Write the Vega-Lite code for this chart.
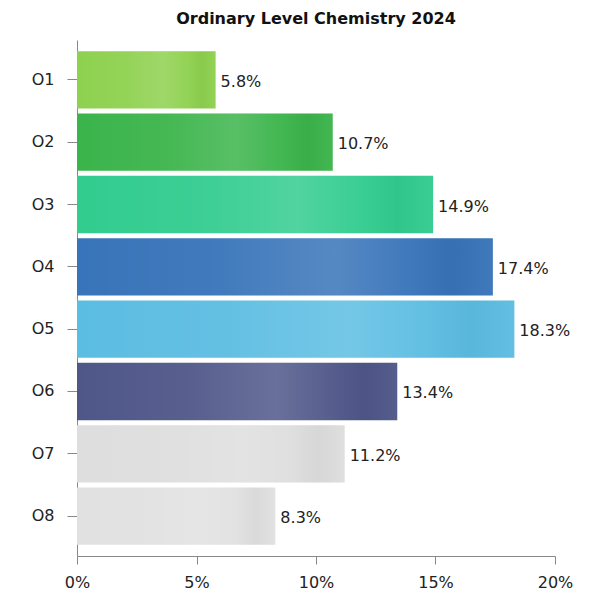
{
  "$schema": "https://vega.github.io/schema/vega-lite/v6.json",
  "autosize": {"type": "none"},
  "padding": {"left": 77, "top": 40, "right": 34, "bottom": 41},
  "width": 478,
  "height": 516,
  "background": "white",
  "title": {
    "text": "Ordinary Level Chemistry 2024",
    "font": "DejaVu Sans",
    "fontSize": 16,
    "fontWeight": "bold",
    "color": "#111111",
    "anchor": "middle",
    "offset": 13
  },
  "config": {
    "view": {"stroke": null},
    "font": "DejaVu Sans"
  },
  "data": {
    "values": [
      {"cat": "O1", "pct": 0.058},
      {"cat": "O2", "pct": 0.107},
      {"cat": "O3", "pct": 0.149},
      {"cat": "O4", "pct": 0.174},
      {"cat": "O5", "pct": 0.183},
      {"cat": "O6", "pct": 0.134},
      {"cat": "O7", "pct": 0.112},
      {"cat": "O8", "pct": 0.083}
    ]
  },
  "encoding": {
    "y": {
      "field": "cat",
      "type": "nominal",
      "sort": null,
      "scale": {"paddingInner": 0.08, "paddingOuter": 0.18},
      "axis": {
        "title": null,
        "labelFont": "DejaVu Sans",
        "labelFontSize": 16,
        "labelColor": "#222222",
        "labelPadding": 13,
        "tickSize": 10,
        "tickColor": "#888888",
        "domainColor": "#888888",
        "grid": false
      }
    },
    "x": {
      "field": "pct",
      "type": "quantitative",
      "scale": {"domain": [0, 0.2], "nice": false},
      "axis": {
        "title": null,
        "format": ".0%",
        "values": [0, 0.05, 0.1, 0.15, 0.2],
        "labelFlush": false,
        "labelFont": "DejaVu Sans",
        "labelFontSize": 16,
        "labelColor": "#222222",
        "labelPadding": 10,
        "tickSize": 8,
        "tickColor": "#888888",
        "domainColor": "#888888",
        "grid": false
      }
    }
  },
  "layer": [
    {
      "mark": {"type": "bar"},
      "encoding": {
        "color": {
          "field": "cat",
          "type": "nominal",
          "legend": null,
          "scale": {
            "domain": ["O1", "O2", "O3", "O4", "O5", "O6", "O7", "O8"],
            "range": ["#8ed14f", "#3bb44b", "#32cc8f", "#3874b9", "#5cbde2", "#4f5789", "#dedede", "#e1e1e1"]
          }
        }
      }
    },
    {
      "mark": {
        "type": "bar",
        "color": {
          "x1": 0, "y1": 0, "x2": 1, "y2": 0,
          "gradient": "linear",
          "stops": [
            {"offset": 0, "color": "rgba(255,255,255,0)"},
            {"offset": 0.35, "color": "rgba(255,255,255,0.05)"},
            {"offset": 0.62, "color": "rgba(255,255,255,0.15)"},
            {"offset": 0.8, "color": "rgba(255,255,255,0.04)"},
            {"offset": 0.9, "color": "rgba(0,0,0,0.03)"},
            {"offset": 1, "color": "rgba(255,255,255,0.04)"}
          ]
        }
      }
    },
    {
      "mark": {
        "type": "text",
        "align": "left",
        "baseline": "middle",
        "dx": 5,
        "dy": 2,
        "font": "DejaVu Sans",
        "fontSize": 16,
        "color": "#222222"
      },
      "encoding": {
        "text": {"field": "pct", "type": "quantitative", "format": ".1%"}
      }
    }
  ]
}
